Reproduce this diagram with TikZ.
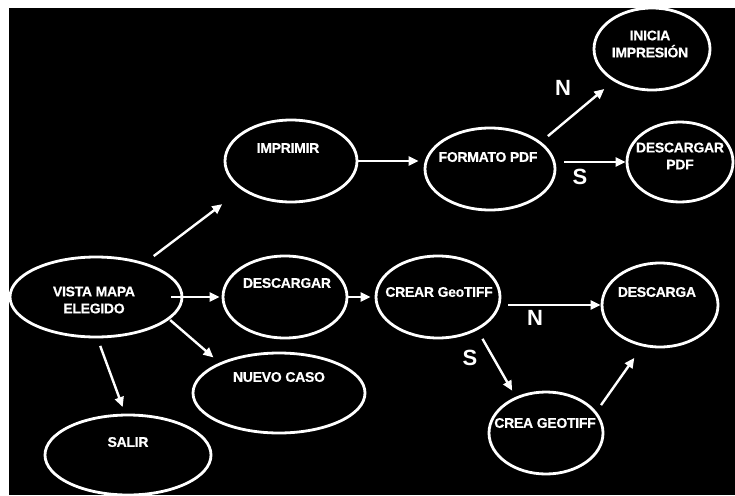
\documentclass[tikz,border=0pt]{standalone}
\usepackage{fontspec}
\setmainfont{Liberation Sans}
\newfontfamily\statefont[FakeBold=0.6,LetterSpace=-2]{Liberation Sans Bold}
\usetikzlibrary{shapes.geometric,arrows.meta}
\begin{document}
\begin{tikzpicture}[x=1pt,y=-1pt,
  state/.style={draw=white,line width=2.8pt,ellipse,inner sep=0pt},
  lbl/.style={text=white,font=\statefont\fontsize{14}{17}\selectfont,align=center,inner sep=0pt},
  yn/.style={text=white,font=\bfseries\fontsize{22}{26}\selectfont,inner sep=0pt},
  arr/.style={draw=white,line width=2.4pt,-{Triangle[length=10pt,width=9pt]}}]

% page frame: thin white margin top and left, black canvas
\useasboundingbox (0,0) rectangle (735,495);
\fill[white] (0,0) rectangle (735,495);
\fill[black] (9,8) rectangle (735,495);

% states
\node[state,minimum width=172pt,minimum height=80pt] (vista)     at (96,297)  {};
\node[state,minimum width=166pt,minimum height=80pt] (salir)     at (128,455) {};
\node[state,minimum width=172pt,minimum height=80pt] (nuevo)     at (279,393) {};
\node[state,minimum width=124pt,minimum height=82pt] (descargar) at (285,297) {};
\node[state,minimum width=132pt,minimum height=82pt] (imprimir)  at (291,161) {};
\node[state,minimum width=130pt,minimum height=82pt] (formato)   at (490,169) {};
\node[state,minimum width=116pt,minimum height=82pt] (inicia)    at (652,49)  {};
\node[state,minimum width=106pt,minimum height=80pt] (dpdf)      at (680,162) {};
\node[state,minimum width=124pt,minimum height=82pt] (crear)     at (438,297) {};
\node[state,minimum width=116pt,minimum height=84pt] (descarga)  at (660,305) {};
\node[state,minimum width=114pt,minimum height=82pt] (crea)      at (546,433) {};

% state texts
\node[lbl] (vista-t)     at (94,300)  {VISTA MAPA\\ELEGIDO};
\node[lbl] (salir-t)     at (128,442) {SALIR};
\node[lbl] (nuevo-t)     at (279,377) {NUEVO CASO};
\node[lbl] (descargar-t) at (287,283) {DESCARGAR};
\node[lbl] (imprimir-t)  at (288,148) {IMPRIMIR};
\node[lbl] (formato-t)   at (488,157) {FORMATO PDF};
\node[lbl] (inicia-t)    at (650,44)  {INICIA\\IMPRESIÓN};
\node[lbl] (dpdf-t)      at (680,156) {DESCARGAR\\PDF};
\node[lbl] (crear-t)     at (439,292) {CREAR GeoTIFF};
\node[lbl] (descarga-t)  at (657,292) {DESCARGA};
\node[lbl] (crea-t)      at (545,423) {CREA GEOTIFF};

% transitions
\draw[arr,shorten <=11pt,shorten >=24pt] (vista.35) -- (imprimir.210);
\draw[arr,shorten <=-12pt,shorten >=2pt] (vista.east) -- (descargar.west);
\draw[arr,shorten <=1pt,shorten >=8pt]   (vista.-17) -- (nuevo.153);
\draw[arr,shorten <=8pt,shorten >=7pt]   (vista.-88) -- (salir.94);
\draw[arr,shorten >=5pt]                 (imprimir.east) -- (imprimir.east -| formato.west);
\draw[arr,shorten <=9pt,shorten >=12pt]  (formato.28) -- (inicia.220);
\draw[arr,shorten <=8pt]                 (dpdf.west -| formato.east) -- (dpdf.west);
\draw[arr,shorten >=4pt]                 (descargar.east) -- (crear.west);
\draw[arr,shorten <=7pt]                 (descarga.west -| crear.east) -- (descarga.west);
\draw[arr,shorten <=10pt,shorten >=7pt]  (crear.-40) -- (crea.130);
\draw[arr,shorten <=8pt,shorten >=14pt]  (crea.23) -- (descarga.247);

% decision labels
\node[yn] (n1) at (563,88)  {N};
\node[yn] (s1) at (580,177) {S};
\node[yn] (n2) at (535,318) {N};
\node[yn] (s2) at (470,358) {S};
\end{tikzpicture}
\end{document}
